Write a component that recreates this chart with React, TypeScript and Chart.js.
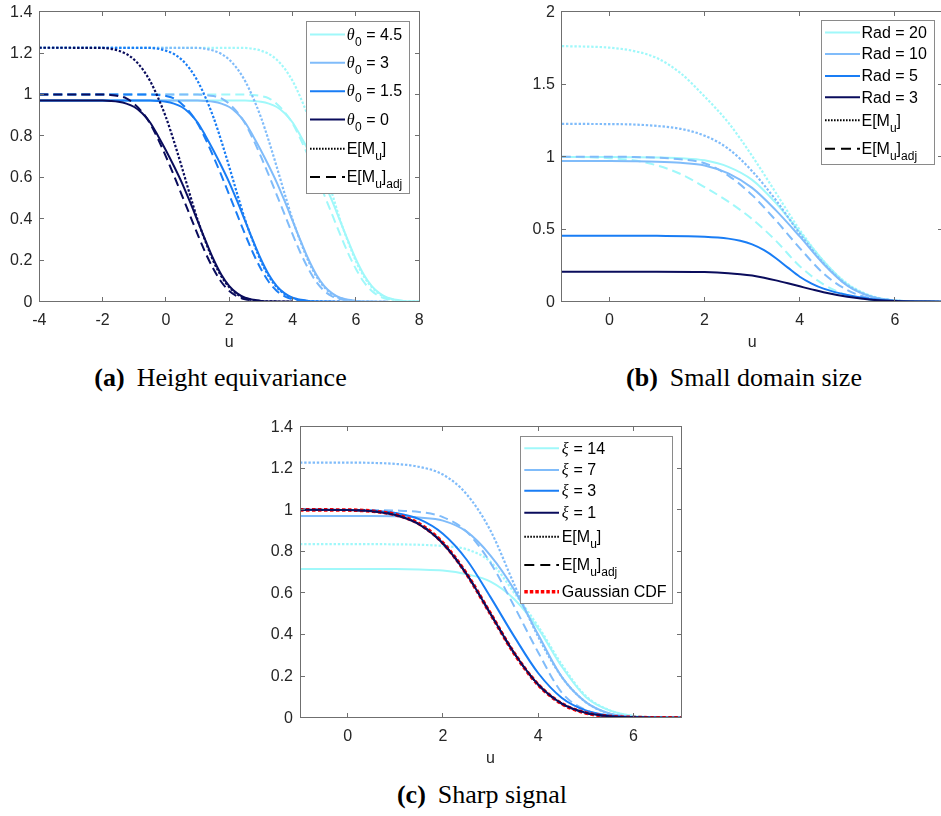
import React, { useEffect, useRef } from "react";
import { Chart, registerables } from "chart.js";

Chart.register(...registerables);

// ================= DATA =================
// (a) Height equivariance
const thetaLabels = ["θ_0 = 4.5", "θ_0 = 3", "θ_0 = 1.5", "θ_0 = 0"];
const uA_t0 = [-4, -2, -1.75, -1.5, -1.25, -1, -0.75, -0.5, -0.25, 0, 0.25, 0.5, 0.75, 1, 1.25, 1.5, 1.75, 2, 2.25, 2.5, 3, 3.5, 4];
const uA_t15 = [-4, -0.5, -0.25, 0, 0.25, 0.5, 0.75, 1, 1.25, 1.5, 1.75, 2, 2.25, 2.5, 2.75, 3, 3.25, 3.5, 3.75, 4, 4.5, 5, 5.5];
const uA_t3 = [-4, 1, 1.25, 1.5, 1.75, 2, 2.25, 2.5, 2.75, 3, 3.25, 3.5, 3.75, 4, 4.25, 4.5, 4.75, 5, 5.25, 5.5, 6, 6.5, 7];
const uA_t45 = [-4, 2.5, 2.75, 3, 3.25, 3.5, 3.75, 4, 4.25, 4.5, 4.75, 5, 5.25, 5.5, 5.75, 6, 6.25, 6.5, 6.75, 7, 7.5, 8, 8.5];
const heightSim = [0.971, 0.971, 0.969, 0.965, 0.956, 0.94, 0.91, 0.865, 0.8, 0.73, 0.655, 0.575, 0.485, 0.39, 0.295, 0.205, 0.13, 0.075, 0.04, 0.019, 0.004, 0.001, 0];
const heightEMu = [1.226, 1.225, 1.221, 1.212, 1.196, 1.168, 1.125, 1.065, 0.985, 0.89, 0.775, 0.65, 0.52, 0.395, 0.29, 0.195, 0.122, 0.07, 0.036, 0.017, 0.003, 0.001, 0];
const heightEMuAdj = [1.0, 1.0, 0.998, 0.993, 0.982, 0.955, 0.915, 0.86, 0.785, 0.7, 0.61, 0.515, 0.42, 0.325, 0.235, 0.158, 0.095, 0.052, 0.026, 0.012, 0.002, 0, 0];
const ticksAX = [-4, -2, 0, 2, 4, 6, 8];
const ticksAY = [0, 0.2, 0.4, 0.6, 0.8, 1, 1.2, 1.4];

// (b) Small domain size
const radLabels = ["Rad = 20", "Rad = 10", "Rad = 5", "Rad = 3"];
const uB = [-1, 0, 0.5, 1, 1.5, 2, 2.5, 3, 3.5, 4, 4.5, 5, 5.5, 6, 6.5, 7];
const rad20Sim = [0.998, 0.998, 0.997, 0.995, 0.99, 0.975, 0.93, 0.84, 0.68, 0.48, 0.28, 0.12, 0.038, 0.008, 0.001, 0];
const rad20EMu = [1.763, 1.752, 1.73, 1.68, 1.575, 1.415, 1.235, 1.005, 0.75, 0.495, 0.28, 0.125, 0.04, 0.008, 0.001, 0];
const rad20EMuAdj = [1.0, 0.99, 0.975, 0.94, 0.88, 0.79, 0.69, 0.57, 0.42, 0.245, 0.12, 0.045, 0.012, 0.002, 0, 0];
const rad10Sim = [0.97, 0.97, 0.969, 0.966, 0.958, 0.94, 0.885, 0.785, 0.63, 0.45, 0.26, 0.11, 0.035, 0.008, 0.001, 0];
const rad10EMu = [1.226, 1.225, 1.222, 1.212, 1.192, 1.145, 1.055, 0.9, 0.7, 0.47, 0.265, 0.115, 0.036, 0.008, 0.001, 0];
const rad10EMuAdj = [1.0, 1.0, 0.998, 0.993, 0.982, 0.955, 0.87, 0.735, 0.56, 0.37, 0.195, 0.08, 0.022, 0.004, 0, 0];
const uB_small = [-1, 0, 1, 2, 2.5, 2.75, 3, 3.25, 3.5, 3.75, 4, 4.25, 4.5, 5, 5.5, 6, 7];
const rad5Sim = [0.455, 0.455, 0.454, 0.448, 0.435, 0.42, 0.395, 0.355, 0.3, 0.235, 0.172, 0.125, 0.09, 0.046, 0.018, 0.005, 0];
const rad3Sim = [0.207, 0.207, 0.207, 0.204, 0.197, 0.19, 0.18, 0.165, 0.147, 0.127, 0.106, 0.085, 0.065, 0.034, 0.014, 0.004, 0];
const ticksBX = [0, 2, 4, 6];
const ticksBY = [0, 0.5, 1, 1.5, 2];

// (c) Sharp signal
const xiLabels = ["ξ = 14", "ξ = 7", "ξ = 3", "ξ = 1"];
const uC = [-1, 0, 0.5, 1, 1.5, 2, 2.5, 3, 3.5, 4, 4.5, 5, 5.5, 6, 6.5, 7];
const gaussCdf = [1.0, 0.999, 0.994, 0.977, 0.933, 0.841, 0.691, 0.5, 0.309, 0.159, 0.067, 0.023, 0.006, 0.001, 0, 0];
const xi1Sim = [1.0, 0.999, 0.993, 0.975, 0.93, 0.838, 0.69, 0.5, 0.31, 0.16, 0.068, 0.024, 0.007, 0.002, 0, 0];
const xi1EMuAdj = [1.0, 0.999, 0.994, 0.976, 0.932, 0.84, 0.69, 0.5, 0.309, 0.159, 0.067, 0.023, 0.006, 0.001, 0, 0];
const xi3Sim = [1.0, 0.999, 0.996, 0.985, 0.955, 0.885, 0.76, 0.58, 0.39, 0.215, 0.095, 0.035, 0.011, 0.003, 0.001, 0];
const xi7Sim = [0.97, 0.97, 0.97, 0.969, 0.963, 0.948, 0.895, 0.78, 0.615, 0.4, 0.195, 0.075, 0.02, 0.004, 0.001, 0];
const xi7EMu = [1.227, 1.227, 1.226, 1.221, 1.207, 1.17, 1.075, 0.9, 0.64, 0.39, 0.195, 0.075, 0.02, 0.004, 0.001, 0];
const xi7EMuAdj = [1.0, 1.0, 0.999, 0.997, 0.99, 0.965, 0.895, 0.745, 0.535, 0.315, 0.12, 0.037, 0.009, 0.002, 0, 0];
const xi14Sim = [0.715, 0.715, 0.715, 0.715, 0.713, 0.708, 0.69, 0.655, 0.57, 0.43, 0.245, 0.1, 0.035, 0.008, 0.001, 0];
const xi14EMu = [0.835, 0.835, 0.835, 0.834, 0.832, 0.826, 0.81, 0.75, 0.6, 0.44, 0.255, 0.105, 0.036, 0.008, 0.001, 0];
const ticksCX = [0, 2, 4, 6];
const ticksCY = [0, 0.2, 0.4, 0.6, 0.8, 1, 1.2, 1.4];

const eLabels = ["E[M_u]", "E[M_u]_{adj}", "Gaussian CDF"];
const axisLabel = "u";
const captions = [
  ["(a)", "Height equivariance"],
  ["(b)", "Small domain size"],
  ["(c)", "Sharp signal"],
];

// ================= STYLE =================
const C_CYAN = "rgb(160,248,250)";
const C_LBLUE = "rgb(128,188,250)";
const C_BLUE = "rgb(25,125,245)";
const C_NAVY = "rgb(10,12,92)";
const C_RED = "rgb(255,0,0)";
const AXIS_COLOR = "#6f6f6f";
const LEGEND_BORDER = "#8a8a8a";
const TEXT_COLOR = "#262626";
const MAIN_FONT = '16px "Liberation Sans", Arial, Helvetica, sans-serif';
const SUB_FONT = '12px "Liberation Sans", Arial, Helvetica, sans-serif';
const GREEK_FONT = 'italic 16px "Liberation Serif", "DejaVu Serif", serif';

type Style = "solid" | "dotted" | "dashed" | "cdf";
const DASH: Record<Style, number[]> = {
  solid: [],
  dotted: [2.4, 1.8],
  dashed: [9, 5],
  cdf: [3.5, 2.5],
};
const WIDTH: Record<Style, number> = { solid: 2, dotted: 2.2, dashed: 2, cdf: 3.6 };
const LEGEND_DASH: Record<Style, number[]> = {
  solid: [],
  dotted: [1.6, 1.4],
  dashed: [10, 6],
  cdf: [3.5, 2],
};

function ds(xs: number[], ys: number[], color: string, style: Style) {
  return {
    data: xs.map((u, i) => ({ x: u, y: ys[i] })),
    borderColor: color,
    backgroundColor: color,
    borderWidth: WIDTH[style],
    borderDash: DASH[style],
    pointRadius: 0,
    pointHoverRadius: 0,
    cubicInterpolationMode: "monotone" as const,
    fill: false,
  };
}

function drawRich(ctx: CanvasRenderingContext2D, text: string, x: number, y: number) {
  const re = /_\{([^}]*)\}|_(.)|([θξ])|([^_θξ]+)/g;
  let m: RegExpExecArray | null;
  let cx = x;
  while ((m = re.exec(text))) {
    if (m[1] !== undefined || m[2] !== undefined) {
      const s = (m[1] ?? m[2]) as string;
      ctx.font = SUB_FONT;
      ctx.fillText(s, cx, y + 6);
      cx += ctx.measureText(s).width;
    } else if (m[3]) {
      ctx.font = GREEK_FONT;
      ctx.fillText(m[3], cx, y);
      cx += ctx.measureText(m[3]).width + 0.5;
    } else if (m[4]) {
      ctx.font = MAIN_FONT;
      ctx.fillText(m[4], cx, y);
      cx += ctx.measureText(m[4]).width;
    }
  }
}

interface LegendItem { label: string; color: string; style: Style; }
interface LegendDef {
  box: [number, number, number, number];
  rows: number[];
  lineX: [number, number];
  textX: number;
  items: LegendItem[];
}

const axesPlugin = {
  id: "matlabAxes",
  afterDraw(chart: any, _args: any, opts: any) {
    const ctx: CanvasRenderingContext2D = chart.ctx;
    const { left, right, top, bottom } = chart.chartArea;
    const xs = chart.scales.x;
    const ys = chart.scales.y;
    const L = Math.floor(left) + 0.5;
    const R = Math.floor(right) + 0.5;
    const T = Math.floor(top) + 0.5;
    const B = Math.floor(bottom) + 0.5;
    ctx.save();
    ctx.setLineDash([]);
    ctx.strokeStyle = AXIS_COLOR;
    ctx.lineWidth = 1;
    ctx.strokeRect(L, T, R - L, B - T);
    const tl = 4.5;
    ctx.beginPath();
    (opts.xTicks as number[]).forEach((v) => {
      const px = Math.floor(xs.getPixelForValue(v)) + 0.5;
      ctx.moveTo(px, B); ctx.lineTo(px, B - tl);
      ctx.moveTo(px, T); ctx.lineTo(px, T + tl);
    });
    (opts.yTicks as number[]).forEach((v) => {
      const py = Math.floor(ys.getPixelForValue(v)) + 0.5;
      ctx.moveTo(L, py); ctx.lineTo(L + tl, py);
      ctx.moveTo(R, py); ctx.lineTo(R - tl, py);
    });
    ctx.stroke();

    ctx.fillStyle = TEXT_COLOR;
    ctx.font = MAIN_FONT;
    ctx.textAlign = "center";
    ctx.textBaseline = "alphabetic";
    (opts.xTicks as number[]).forEach((v) => {
      ctx.fillText(String(v), xs.getPixelForValue(v), bottom + 23.3);
    });
    ctx.fillText(opts.xLabel, (left + right) / 2, bottom + 45.5);
    ctx.textAlign = "right";
    ctx.textBaseline = "middle";
    (opts.yTicks as number[]).forEach((v) => {
      ctx.fillText(String(v), left - 7, ys.getPixelForValue(v) + 0.5);
    });

    const lg: LegendDef = opts.legend;
    if (lg) {
      const [x0, y0, x1, y1] = lg.box;
      ctx.fillStyle = "#ffffff";
      ctx.fillRect(x0, y0, x1 - x0, y1 - y0);
      ctx.strokeStyle = LEGEND_BORDER;
      ctx.lineWidth = 1;
      ctx.strokeRect(Math.floor(x0) + 0.5, Math.floor(y0) + 0.5, Math.round(x1 - x0), Math.round(y1 - y0));
      lg.items.forEach((it, i) => {
        const y = lg.rows[i];
        ctx.strokeStyle = it.color;
        ctx.lineWidth = it.style === "cdf" ? 3.6 : 2;
        ctx.setLineDash(LEGEND_DASH[it.style]);
        ctx.beginPath();
        ctx.moveTo(lg.lineX[0], y);
        ctx.lineTo(lg.lineX[1], y);
        ctx.stroke();
        ctx.setLineDash([]);
        ctx.fillStyle = "#000";
        ctx.textAlign = "left";
        ctx.textBaseline = "alphabetic";
        drawRich(ctx, it.label, lg.textX, y + 5.2);
      });
    }
    ctx.restore();
  },
};

interface PanelProps {
  left: number; top: number; width: number; height: number;
  pad: { left: number; top: number; right: number; bottom: number };
  xRange: [number, number]; yRange: [number, number];
  datasets: any[]; xTicks: number[]; yTicks: number[];
  legend: LegendDef;
}

function Panel(p: PanelProps) {
  const ref = useRef<HTMLCanvasElement>(null);
  useEffect(() => {
    const chart = new Chart(ref.current as HTMLCanvasElement, {
      type: "line",
      data: { datasets: p.datasets },
      options: {
        animation: false,
        responsive: false,
        maintainAspectRatio: false,
        events: [],
        layout: { padding: p.pad },
        scales: {
          x: { type: "linear", display: false, min: p.xRange[0], max: p.xRange[1] },
          y: { type: "linear", display: false, min: p.yRange[0], max: p.yRange[1] },
        },
        plugins: {
          legend: { display: false },
          tooltip: { enabled: false },
          // @ts-ignore
          matlabAxes: { xTicks: p.xTicks, yTicks: p.yTicks, xLabel: axisLabel, legend: p.legend },
        },
      } as any,
      plugins: [axesPlugin as any],
    });
    return () => chart.destroy();
  }, []);
  return (
    <canvas
      ref={ref}
      width={p.width}
      height={p.height}
      style={{ position: "absolute", left: p.left, top: p.top, width: p.width, height: p.height }}
    />
  );
}

const thetaColors = [C_CYAN, C_LBLUE, C_BLUE, C_NAVY];

const datasetsA = [
  ds(uA_t0, heightEMuAdj, C_NAVY, "dashed"),
  ds(uA_t0, heightEMu, C_NAVY, "dotted"),
  ds(uA_t0, heightSim, C_NAVY, "solid"),
  ds(uA_t15, heightEMuAdj, C_BLUE, "dashed"),
  ds(uA_t15, heightEMu, C_BLUE, "dotted"),
  ds(uA_t15, heightSim, C_BLUE, "solid"),
  ds(uA_t3, heightEMuAdj, C_LBLUE, "dashed"),
  ds(uA_t3, heightEMu, C_LBLUE, "dotted"),
  ds(uA_t3, heightSim, C_LBLUE, "solid"),
  ds(uA_t45, heightEMuAdj, C_CYAN, "dashed"),
  ds(uA_t45, heightEMu, C_CYAN, "dotted"),
  ds(uA_t45, heightSim, C_CYAN, "solid"),
];

const datasetsB = [
  ds(uB_small, rad3Sim, C_NAVY, "solid"),
  ds(uB_small, rad5Sim, C_BLUE, "solid"),
  ds(uB, rad10EMuAdj, C_LBLUE, "dashed"),
  ds(uB, rad10Sim, C_LBLUE, "solid"),
  ds(uB, rad10EMu, C_LBLUE, "dotted"),
  ds(uB, rad20EMuAdj, C_CYAN, "dashed"),
  ds(uB, rad20Sim, C_CYAN, "solid"),
  ds(uB, rad20EMu, C_CYAN, "dotted"),
];

const datasetsC = [
  ds(uC, xi1Sim, C_NAVY, "solid"),
  ds(uC, gaussCdf, C_RED, "cdf"),
  ds(uC, xi1EMuAdj, C_NAVY, "dashed"),
  ds(uC, xi3Sim, C_BLUE, "solid"),
  ds(uC, xi7EMuAdj, C_LBLUE, "dashed"),
  ds(uC, xi7Sim, C_LBLUE, "solid"),
  ds(uC, xi7EMu, C_LBLUE, "dotted"),
  ds(uC, xi14EMu, C_CYAN, "dotted"),
  ds(uC, xi14Sim, C_CYAN, "solid"),
];

function legendItems(labels: string[], withCdf: boolean): LegendItem[] {
  const items: LegendItem[] = labels.map((l, i) => ({ label: l, color: thetaColors[i], style: "solid" as Style }));
  items.push({ label: eLabels[0], color: "#000", style: "dotted" });
  items.push({ label: eLabels[1], color: "#000", style: "dashed" });
  if (withCdf) items.push({ label: eLabels[2], color: C_RED, style: "cdf" });
  return items;
}

const legendA: LegendDef = {
  box: [306.7, 21.5, 410, 193.3],
  rows: [34.5, 62.7, 91.2, 119.5, 148.8, 177],
  lineX: [310, 345],
  textX: 346.7,
  items: legendItems(thetaLabels, false),
};
const legendB: LegendDef = {
  box: [351.7, 20.7, 465, 165],
  rows: [32.5, 54, 76, 97.3, 120.3, 148.7],
  lineX: [355, 390],
  textX: 391.5,
  items: legendItems(radLabels, false),
};
const legendC: LegendDef = {
  box: [270.7, 36, 422.3, 203.3],
  rows: [48.3, 70, 90.7, 112.7, 136.7, 165, 191.7],
  lineX: [274.3, 309],
  textX: 311.7,
  items: legendItems(xiLabels, true),
};

const capStyle: React.CSSProperties = {
  position: "absolute",
  fontFamily: '"Liberation Serif", "Times New Roman", serif',
  fontSize: 26,
  lineHeight: "30px",
  textAlign: "center",
  whiteSpace: "nowrap",
  color: "#000",
};

function Caption({ idx, center, top }: { idx: number; center: number; top: number }) {
  return (
    <div style={{ ...capStyle, left: center - 250, width: 500, top }}>
      <b>{captions[idx][0]}</b>
      <span style={{ marginLeft: 12 }}>{captions[idx][1]}</span>
    </div>
  );
}

export default function App() {
  return (
    <div
      style={{
        position: "fixed",
        left: 0,
        top: 0,
        width: 941,
        height: 816,
        overflow: "hidden",
        background: "#fff",
      }}
    >
      <Panel
        left={0} top={0} width={470} height={360}
        pad={{ left: 39.3, top: 11.7, right: 50.7, bottom: 58.3 }}
        xRange={[-4, 8]} yRange={[0, 1.4]}
        datasets={datasetsA} xTicks={ticksAX} yTicks={ticksAY}
        legend={legendA}
      />
      <Panel
        left={470} top={0} width={480} height={360}
        pad={{ left: 91.8, top: 11.7, right: 7.5, bottom: 58.3 }}
        xRange={[-1, 7]} yRange={[0, 2]}
        datasets={datasetsB} xTicks={ticksBX} yTicks={ticksBY}
        legend={legendB}
      />
      <Panel
        left={250} top={400} width={460} height={380}
        pad={{ left: 50, top: 26.7, right: 29, bottom: 62.3 }}
        xRange={[-1, 7]} yRange={[0, 1.4]}
        datasets={datasetsC} xTicks={ticksCX} yTicks={ticksCY}
        legend={legendC}
      />
      <Caption idx={0} center={220.5} top={363.2} />
      <Caption idx={1} center={744} top={363.2} />
      <Caption idx={2} center={482} top={779.5} />
    </div>
  );
}
